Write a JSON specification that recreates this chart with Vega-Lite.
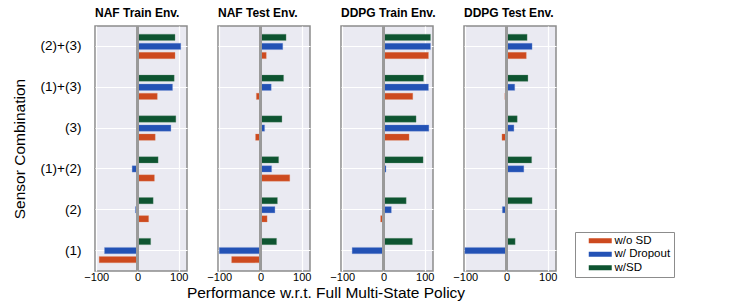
{
  "$schema": "https://vega.github.io/schema/vega-lite/v6.json",
  "padding": {"left": 12, "top": 6, "right": 5, "bottom": 0},
  "config": {
    "font": "Liberation Sans",
    "view": {"fill": "#EAEAF2", "stroke": "#8C8C8C", "strokeWidth": 1.5},
    "axis": {"domain": false, "gridColor": "#FFFFFF", "gridWidth": 1.2, "labelColor": "#000000", "titleColor": "#000000", "titleFontWeight": "normal"}
  },
  "data": {
    "values": [
      {"panel": "NAF Train Env.", "combo": "(2)+(3)", "method": "w/SD", "value": 91},
      {"panel": "NAF Train Env.", "combo": "(2)+(3)", "method": "w/ Dropout", "value": 105},
      {"panel": "NAF Train Env.", "combo": "(2)+(3)", "method": "w/o SD", "value": 91},
      {"panel": "NAF Train Env.", "combo": "(1)+(3)", "method": "w/SD", "value": 89},
      {"panel": "NAF Train Env.", "combo": "(1)+(3)", "method": "w/ Dropout", "value": 85},
      {"panel": "NAF Train Env.", "combo": "(1)+(3)", "method": "w/o SD", "value": 48},
      {"panel": "NAF Train Env.", "combo": "(3)", "method": "w/SD", "value": 93},
      {"panel": "NAF Train Env.", "combo": "(3)", "method": "w/ Dropout", "value": 81},
      {"panel": "NAF Train Env.", "combo": "(3)", "method": "w/o SD", "value": 43},
      {"panel": "NAF Train Env.", "combo": "(1)+(2)", "method": "w/SD", "value": 50},
      {"panel": "NAF Train Env.", "combo": "(1)+(2)", "method": "w/ Dropout", "value": -13},
      {"panel": "NAF Train Env.", "combo": "(1)+(2)", "method": "w/o SD", "value": 41},
      {"panel": "NAF Train Env.", "combo": "(2)", "method": "w/SD", "value": 38},
      {"panel": "NAF Train Env.", "combo": "(2)", "method": "w/ Dropout", "value": -5},
      {"panel": "NAF Train Env.", "combo": "(2)", "method": "w/o SD", "value": 27},
      {"panel": "NAF Train Env.", "combo": "(1)", "method": "w/SD", "value": 32},
      {"panel": "NAF Train Env.", "combo": "(1)", "method": "w/ Dropout", "value": -80},
      {"panel": "NAF Train Env.", "combo": "(1)", "method": "w/o SD", "value": -93},

      {"panel": "NAF Test Env.", "combo": "(2)+(3)", "method": "w/SD", "value": 62},
      {"panel": "NAF Test Env.", "combo": "(2)+(3)", "method": "w/ Dropout", "value": 54},
      {"panel": "NAF Test Env.", "combo": "(2)+(3)", "method": "w/o SD", "value": 14},
      {"panel": "NAF Test Env.", "combo": "(1)+(3)", "method": "w/SD", "value": 56},
      {"panel": "NAF Test Env.", "combo": "(1)+(3)", "method": "w/ Dropout", "value": 26},
      {"panel": "NAF Test Env.", "combo": "(1)+(3)", "method": "w/o SD", "value": -10},
      {"panel": "NAF Test Env.", "combo": "(3)", "method": "w/SD", "value": 52},
      {"panel": "NAF Test Env.", "combo": "(3)", "method": "w/ Dropout", "value": 10},
      {"panel": "NAF Test Env.", "combo": "(3)", "method": "w/o SD", "value": -12},
      {"panel": "NAF Test Env.", "combo": "(1)+(2)", "method": "w/SD", "value": 44},
      {"panel": "NAF Test Env.", "combo": "(1)+(2)", "method": "w/ Dropout", "value": 27},
      {"panel": "NAF Test Env.", "combo": "(1)+(2)", "method": "w/o SD", "value": 71},
      {"panel": "NAF Test Env.", "combo": "(2)", "method": "w/SD", "value": 41},
      {"panel": "NAF Test Env.", "combo": "(2)", "method": "w/ Dropout", "value": 35},
      {"panel": "NAF Test Env.", "combo": "(2)", "method": "w/o SD", "value": 16},
      {"panel": "NAF Test Env.", "combo": "(1)", "method": "w/SD", "value": 39},
      {"panel": "NAF Test Env.", "combo": "(1)", "method": "w/ Dropout", "value": -100},
      {"panel": "NAF Test Env.", "combo": "(1)", "method": "w/o SD", "value": -70},

      {"panel": "DDPG Train Env.", "combo": "(2)+(3)", "method": "w/SD", "value": 114},
      {"panel": "DDPG Train Env.", "combo": "(2)+(3)", "method": "w/ Dropout", "value": 114},
      {"panel": "DDPG Train Env.", "combo": "(2)+(3)", "method": "w/o SD", "value": 109},
      {"panel": "DDPG Train Env.", "combo": "(1)+(3)", "method": "w/SD", "value": 97},
      {"panel": "DDPG Train Env.", "combo": "(1)+(3)", "method": "w/ Dropout", "value": 109},
      {"panel": "DDPG Train Env.", "combo": "(1)+(3)", "method": "w/o SD", "value": 71},
      {"panel": "DDPG Train Env.", "combo": "(3)", "method": "w/SD", "value": 79},
      {"panel": "DDPG Train Env.", "combo": "(3)", "method": "w/ Dropout", "value": 110},
      {"panel": "DDPG Train Env.", "combo": "(3)", "method": "w/o SD", "value": 62},
      {"panel": "DDPG Train Env.", "combo": "(1)+(2)", "method": "w/SD", "value": 96},
      {"panel": "DDPG Train Env.", "combo": "(1)+(2)", "method": "w/ Dropout", "value": 6},
      {"panel": "DDPG Train Env.", "combo": "(1)+(2)", "method": "w/o SD", "value": -2},
      {"panel": "DDPG Train Env.", "combo": "(2)", "method": "w/SD", "value": 55},
      {"panel": "DDPG Train Env.", "combo": "(2)", "method": "w/ Dropout", "value": 19},
      {"panel": "DDPG Train Env.", "combo": "(2)", "method": "w/o SD", "value": -7},
      {"panel": "DDPG Train Env.", "combo": "(1)", "method": "w/SD", "value": 70},
      {"panel": "DDPG Train Env.", "combo": "(1)", "method": "w/ Dropout", "value": -76},
      {"panel": "DDPG Train Env.", "combo": "(1)", "method": "w/o SD", "value": 0},

      {"panel": "DDPG Test Env.", "combo": "(2)+(3)", "method": "w/SD", "value": 50},
      {"panel": "DDPG Test Env.", "combo": "(2)+(3)", "method": "w/ Dropout", "value": 62},
      {"panel": "DDPG Test Env.", "combo": "(2)+(3)", "method": "w/o SD", "value": 48},
      {"panel": "DDPG Test Env.", "combo": "(1)+(3)", "method": "w/SD", "value": 52},
      {"panel": "DDPG Test Env.", "combo": "(1)+(3)", "method": "w/ Dropout", "value": 20},
      {"panel": "DDPG Test Env.", "combo": "(1)+(3)", "method": "w/o SD", "value": -4},
      {"panel": "DDPG Test Env.", "combo": "(3)", "method": "w/SD", "value": 26},
      {"panel": "DDPG Test Env.", "combo": "(3)", "method": "w/ Dropout", "value": 18},
      {"panel": "DDPG Test Env.", "combo": "(3)", "method": "w/o SD", "value": -11},
      {"panel": "DDPG Test Env.", "combo": "(1)+(2)", "method": "w/SD", "value": 61},
      {"panel": "DDPG Test Env.", "combo": "(1)+(2)", "method": "w/ Dropout", "value": 42},
      {"panel": "DDPG Test Env.", "combo": "(1)+(2)", "method": "w/o SD", "value": 0.5},
      {"panel": "DDPG Test Env.", "combo": "(2)", "method": "w/SD", "value": 62},
      {"panel": "DDPG Test Env.", "combo": "(2)", "method": "w/ Dropout", "value": -10},
      {"panel": "DDPG Test Env.", "combo": "(2)", "method": "w/o SD", "value": 0.5},
      {"panel": "DDPG Test Env.", "combo": "(1)", "method": "w/SD", "value": 21},
      {"panel": "DDPG Test Env.", "combo": "(1)", "method": "w/ Dropout", "value": -101},
      {"panel": "DDPG Test Env.", "combo": "(1)", "method": "w/o SD", "value": 0}
    ]
  },
  "facet": {
    "column": {
      "field": "panel",
      "type": "nominal",
      "sort": ["NAF Train Env.", "NAF Test Env.", "DDPG Train Env.", "DDPG Test Env."],
      "header": {
        "title": "Performance w.r.t. Full Multi-State Policy",
        "titleOrient": "bottom",
        "titleBaseline": "top",
        "titleFontSize": 15.5,
        "titleFontWeight": "normal",
        "titleColor": "#000000",
        "titlePadding": -6,
        "labelOrient": "top",
        "labelAnchor": "start",
        "labelFontSize": 12,
        "labelFontWeight": "bold",
        "labelColor": "#000000",
        "labelPadding": 4.5
      }
    }
  },
  "spacing": 29,
  "spec": {
    "width": 92,
    "height": 245,
    "layer": [
      {
        "mark": {"type": "bar", "strokeWidth": 0.6, "strokeOpacity": 0.5},
        "encoding": {
          "y": {
            "field": "combo",
            "type": "nominal",
            "sort": ["(2)+(3)", "(1)+(3)", "(3)", "(1)+(2)", "(2)", "(1)"],
            "scale": {"paddingInner": 0.4, "paddingOuter": 0.2},
            "axis": {"title": "Sensor Combination", "titleFontSize": 15.5, "titlePadding": 13, "labelFontSize": 13.5, "labelPadding": 17, "tickSize": -4, "tickColor": "#8C8C8C", "grid": true, "bandPosition": 0.5}
          },
          "yOffset": {
            "field": "method",
            "type": "nominal",
            "sort": ["w/SD", "w/ Dropout", "w/o SD"],
            "scale": {"paddingInner": 0.3}
          },
          "x": {
            "field": "value",
            "type": "quantitative",
            "scale": {"domain": [-103, 120], "nice": false, "zero": false},
            "axis": {"title": null, "values": [-100, 0, 100], "labelFontSize": 11, "labelColor": "#000000", "labelPadding": -2, "ticks": false, "grid": true}
          },
          "color": {
            "field": "method",
            "type": "nominal",
            "sort": ["w/o SD", "w/ Dropout", "w/SD"],
            "scale": {"domain": ["w/o SD", "w/ Dropout", "w/SD"], "range": ["#CD4A1F", "#2352B5", "#0E5431"]},
            "legend": {
              "title": null,
              "orient": "none",
              "legendX": 480,
              "legendY": 206,
              "symbolType": "M-2.3,-0.5H2.3V0.5H-2.3Z",
              "symbolSize": 100,
              "symbolStrokeWidth": 0,
              "symbolOffset": 16.5,
              "labelOffset": 8.5,
              "labelFontSize": 11.5,
              "labelColor": "#000000",
              "rowPadding": 0.5,
              "padding": 3,
              "strokeColor": "#8C8C8C",
              "fillColor": "#FFFFFF"
            }
          },
          "stroke": {
            "field": "method",
            "type": "nominal",
            "scale": {"domain": ["w/o SD", "w/ Dropout", "w/SD"], "range": ["#E0906F", "#7F9BD6", "#6E9A80"]},
            "legend": null
          }
        }
      },
      {
        "mark": {"type": "rule", "color": "#9A9A9A", "strokeWidth": 2},
        "encoding": {"x": {"datum": 0}}
      }
    ]
  }
}
